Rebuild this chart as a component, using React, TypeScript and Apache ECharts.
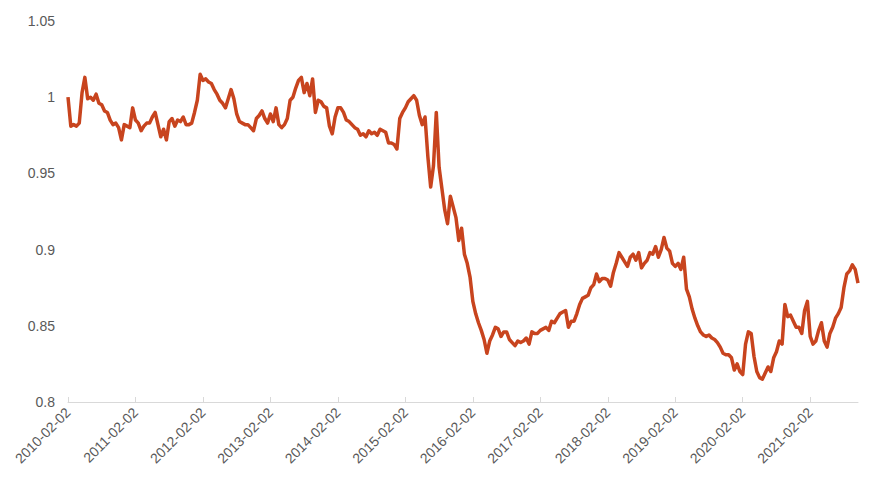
import React, { useEffect, useRef } from "react";
import * as echarts from "echarts";

// Half-monthly samples (days 02 and 17), each list runs Feb -> Jan of the next year
const y2010 = [1.000, 0.981, 0.982, 0.981, 0.983, 1.003, 1.013, 0.999, 1.000, 0.998, 1.002, 0.996, 0.995, 0.991, 0.990, 0.985, 0.982, 0.983, 0.980, 0.972, 0.982, 0.981, 0.980, 0.993];
const y2011 = [0.985, 0.983, 0.978, 0.981, 0.983, 0.983, 0.987, 0.990, 0.982, 0.974, 0.979, 0.972, 0.984, 0.986, 0.981, 0.985, 0.984, 0.987, 0.982, 0.982, 0.983, 0.990, 0.998, 1.015];
const y2012 = [1.011, 1.012, 1.010, 1.009, 1.005, 1.002, 0.998, 0.996, 0.993, 0.999, 1.005, 0.999, 0.989, 0.984, 0.983, 0.982, 0.982, 0.980, 0.978, 0.986, 0.988, 0.991, 0.986, 0.983];
const y2013 = [0.989, 0.984, 0.993, 0.982, 0.980, 0.982, 0.986, 0.998, 1.000, 1.006, 1.011, 1.013, 1.003, 1.009, 1.001, 1.012, 0.990, 0.998, 0.997, 0.994, 0.993, 0.981, 0.976, 0.987];
const y2014 = [0.993, 0.993, 0.990, 0.985, 0.984, 0.982, 0.980, 0.979, 0.975, 0.976, 0.974, 0.978, 0.976, 0.977, 0.975, 0.979, 0.978, 0.977, 0.970, 0.970, 0.969, 0.966, 0.986, 0.990];
const y2015 = [0.993, 0.997, 0.999, 1.001, 0.998, 0.988, 0.982, 0.987, 0.961, 0.941, 0.955, 0.990, 0.954, 0.940, 0.926, 0.917, 0.935, 0.928, 0.921, 0.906, 0.914, 0.897, 0.891, 0.882];
const y2016 = [0.866, 0.858, 0.852, 0.847, 0.841, 0.832, 0.840, 0.844, 0.849, 0.848, 0.843, 0.846, 0.846, 0.841, 0.839, 0.837, 0.840, 0.839, 0.840, 0.842, 0.838, 0.846, 0.845, 0.845];
const y2017 = [0.847, 0.848, 0.849, 0.847, 0.853, 0.852, 0.855, 0.858, 0.859, 0.860, 0.849, 0.853, 0.853, 0.858, 0.864, 0.868, 0.869, 0.870, 0.875, 0.877, 0.884, 0.879, 0.881, 0.881];
const y2018 = [0.880, 0.876, 0.885, 0.891, 0.898, 0.895, 0.892, 0.889, 0.895, 0.897, 0.893, 0.898, 0.888, 0.891, 0.893, 0.898, 0.897, 0.902, 0.895, 0.900, 0.908, 0.901, 0.899, 0.891];
const y2019 = [0.889, 0.891, 0.887, 0.895, 0.874, 0.869, 0.861, 0.855, 0.850, 0.846, 0.844, 0.843, 0.844, 0.842, 0.841, 0.839, 0.836, 0.832, 0.831, 0.831, 0.829, 0.821, 0.825, 0.820];
const y2020 = [0.818, 0.838, 0.846, 0.845, 0.830, 0.820, 0.816, 0.815, 0.819, 0.823, 0.820, 0.829, 0.833, 0.840, 0.838, 0.864, 0.856, 0.857, 0.853, 0.849, 0.849, 0.845, 0.860, 0.866];
const y2021 = [0.843, 0.838, 0.840, 0.847, 0.852, 0.840, 0.836, 0.845, 0.849, 0.855, 0.858, 0.862, 0.875, 0.884, 0.886, 0.890, 0.887, 0.878];

const yearLists = [y2010, y2011, y2012, y2013, y2014, y2015, y2016, y2017, y2018, y2019, y2020, y2021];
const startYear = 2010;
const sampleDays = ["02", "17"];

const yMin = 0.8;
const yMax = 1.05;
const yStep = 0.05;

const LINE_COLOR = "#C8441E";
const TEXT_COLOR = "#595959";

function pad(n: number) {
  return n < 10 ? "0" + n : String(n);
}

const categories: string[] = [];
const values: number[] = [];
yearLists.forEach((list, yi) => {
  list.forEach((v, k) => {
    const monthOffset = Math.floor(k / 2); // 0 => Feb
    const m0 = 1 + monthOffset; // zero-based month index
    const year = startYear + yi + Math.floor(m0 / 12);
    const month = (m0 % 12) + 1;
    categories.push(`${year}-${pad(month)}-${sampleDays[k % 2]}`);
    values.push(v);
  });
});

export default function App() {
  const ref = useRef<HTMLDivElement>(null);
  useEffect(() => {
    if (!ref.current) return;
    const chart = echarts.init(ref.current, undefined, { renderer: "svg" });
    chart.setOption({
      animation: false,
      backgroundColor: "#ffffff",
      grid: { left: 68, right: 18, top: 21, bottom: 78 },
      xAxis: {
        type: "category",
        data: categories,
        boundaryGap: false,
        axisLine: { lineStyle: { color: "#d9d9d9", width: 1 } },
        axisTick: { show: true, inside: true, length: 5, interval: 23, lineStyle: { color: "#d9d9d9" } },
        axisLabel: {
          interval: 23,
          rotate: 45,
          color: TEXT_COLOR,
          fontSize: 14,
          fontFamily: "Liberation Sans, Arial, sans-serif",
          margin: 8,
        },
        splitLine: { show: false },
      },
      yAxis: {
        type: "value",
        min: yMin,
        max: yMax,
        interval: yStep,
        axisLine: { show: false },
        axisTick: { show: false },
        splitLine: { show: false },
        axisLabel: {
          color: TEXT_COLOR,
          fontSize: 14,
          fontFamily: "Liberation Sans, Arial, sans-serif",
          margin: 13,
        },
      },
      series: [
        {
          type: "line",
          data: values,
          showSymbol: false,
          symbol: "none",
          lineStyle: { color: LINE_COLOR, width: 3.5, join: "round" },
          itemStyle: { color: LINE_COLOR },
        },
      ],
    });
    return () => chart.dispose();
  }, []);
  return (
    <div
      ref={ref}
      style={{ position: "absolute", left: 0, top: 0, width: 876, height: 480 }}
    />
  );
}
